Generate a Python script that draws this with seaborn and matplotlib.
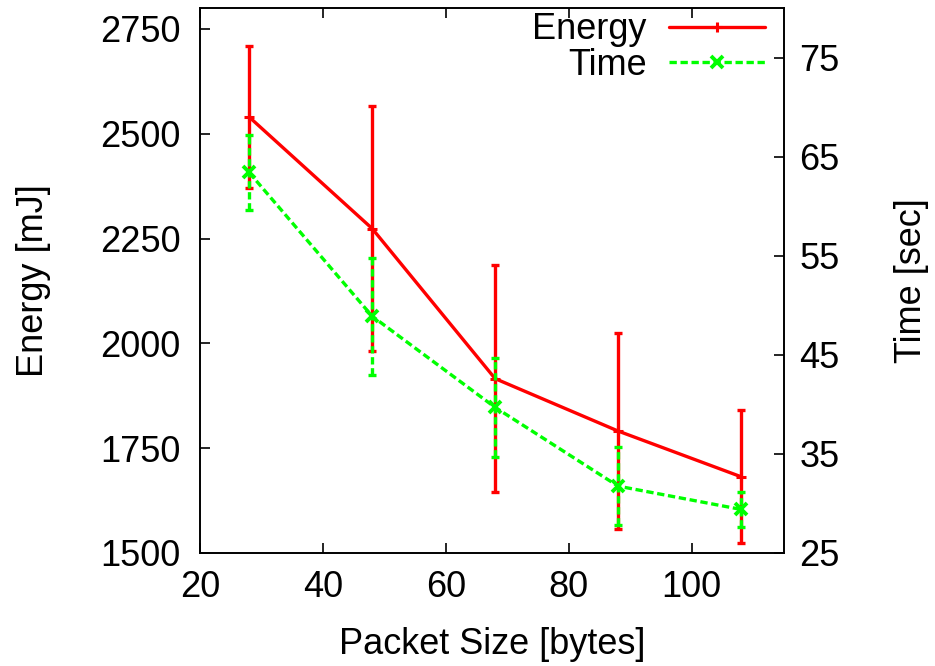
import matplotlib
matplotlib.use("Agg")
import matplotlib.pyplot as plt
import seaborn as sns
import pandas as pd

# ---- data ----
packet_size = [28, 48, 68, 88, 108]
energy_mj = [2540, 2274, 1916, 1791, 1682]
energy_err = [170, 292, 270, 233, 158]
time_sec = [63.4, 48.9, 39.7, 31.75, 29.4]
time_err = [3.8, 5.9, 5.0, 3.95, 1.8]

x_ticks = [20, 40, 60, 80, 100]
energy_ticks = [1500, 1750, 2000, 2250, 2500, 2750]
time_ticks = [25, 35, 45, 55, 65, 75]

df = pd.DataFrame({"size": packet_size, "energy": energy_mj, "e_err": energy_err,
                   "time": time_sec, "t_err": time_err})

RED = "#ff0000"
GREEN = "#00ff00"
FS = 26
LW = 2.4
DASH = (0, (2.2, 1.1))

sns.set_style("ticks")
plt.rcParams["font.family"] = ["Liberation Sans", "DejaVu Sans"]
plt.rcParams["axes.edgecolor"] = "black"
plt.rcParams["xtick.color"] = "black"
plt.rcParams["ytick.color"] = "black"
plt.rcParams["text.color"] = "black"
plt.rcParams["axes.labelcolor"] = "black"

fig = plt.figure(figsize=(9.35, 6.66), dpi=100)
ax = fig.add_axes([200 / 935, 1 - 553 / 666, 584 / 935, 545 / 666])
ax2 = ax.twinx()

# Energy (left axis)
ax.errorbar(df["size"], df["energy"], yerr=df["e_err"], fmt="none", ecolor=RED,
            elinewidth=LW, capsize=3.2, capthick=LW, zorder=2)
sns.lineplot(data=df, x="size", y="energy", ax=ax, color=RED, lw=LW,
             marker="+", markersize=7, markeredgewidth=2.2, markeredgecolor=RED,
             estimator=None, legend=False, zorder=3)
energy_line = ax.get_lines()[-1]

# Time (right axis)
eb = ax2.errorbar(df["size"], df["time"], yerr=df["t_err"], fmt="none", ecolor=GREEN,
                  elinewidth=LW, capsize=3.2, capthick=LW, zorder=2)
for lc in eb[2]:
    lc.set_linestyle(DASH)
sns.lineplot(data=df, x="size", y="time", ax=ax2, color=GREEN, lw=LW,
             marker="x", markersize=8, markeredgewidth=2.8, markeredgecolor=GREEN,
             estimator=None, legend=False, zorder=3)
time_line = ax2.get_lines()[-1]
time_line.set_linestyle(DASH)

# axes ranges / ticks
ax.set_xlim(20, 115)
ax.set_ylim(1500, 2800)
ax2.set_ylim(25, 80)
ax.set_xticks(x_ticks)
ax.set_yticks(energy_ticks)
ax2.set_yticks(time_ticks)

ax.tick_params(axis="both", direction="in", length=7, width=1.2, labelsize=FS)
ax.tick_params(axis="x", top=True, bottom=True, pad=12)
ax.tick_params(axis="y", left=True, right=False, pad=14)
ax2.tick_params(axis="y", direction="in", length=7, width=1.2, labelsize=FS, pad=11)

for a in (ax, ax2):
    for s in a.spines.values():
        s.set_linewidth(1.2)
        s.set_color("black")
    a.grid(False)

ax.set_xlabel("Packet Size [bytes]", fontsize=FS)
ax.xaxis.set_label_coords(0.5, -0.135)
ax.set_ylabel("Energy [mJ]", fontsize=FS, va="center")
ax.yaxis.set_label_coords(-0.285, 0.5)
ax2.set_ylabel("Time [sec]", fontsize=FS, va="center")
ax2.yaxis.set_label_coords(1.219, 0.5)

leg = ax2.legend([energy_line, time_line], ["Energy", "Time"], loc="upper right",
                 bbox_to_anchor=(565 / 584, 0.992), frameon=False, markerfirst=False,
                 fontsize=FS, handlelength=2.65, handletextpad=0.62,
                 borderpad=0, borderaxespad=0, labelspacing=0.02, numpoints=1)

fig.savefig("out.png", dpi=100, facecolor="white")
